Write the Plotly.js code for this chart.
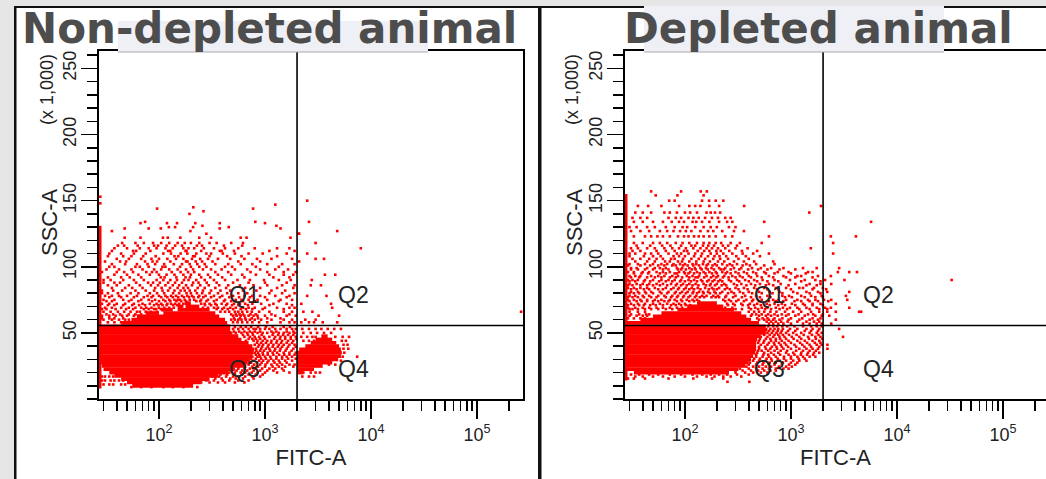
<!DOCTYPE html>
<html><head><meta charset="utf-8">
<script src="https://cdn.plot.ly/plotly-3.0.1.min.js"></script>
<style>html,body{margin:0;padding:0;background:#fff;overflow:hidden}</style></head>
<body><div id="chart" style="width:1046px;height:479px"></div>
<script>
const panelTitles = ["Non-depleted animal", "Depleted animal"];
const quadrantLabels = ["Q1", "Q2", "Q3", "Q4"];
const gateFitc = [2005, 2010];
const gateSsc = [55.6, 55.6];
const yTicks = [50, 100, 150, 200, 250];
const xMajorTicks = [100, 1000, 10000, 100000];
const xMinorTicks = [30,40,50,60,70,80,90,200,300,400,500,600,700,800,900,2000,3000,4000,5000,6000,7000,8000,9000,20000,30000,40000,50000,60000,70000,80000,90000,200000];

// Solid populations: SSC level, and FITC start / end of the saturated run
const npBandSsc = [72.5,70,70,67.5,67.5,65,65,62.5,60,57.5,55,52.5,50,47.5,45,42.5,40,37.5,35,32.5,30,27.5,25,22.5,20,17.5,15,12.5,10,
  47.5,45,42.5,40,37.5,35,32.5,30,27.5,25,22.5,20];
const npBandFrom = [175,150,178,105,150,75,110,62,55,44,27.2,27.2,27.2,27.2,27.2,27.2,27.2,27.2,27.2,27.5,28,28,29,30,34,38,44,50,56,
  3400,3000,2700,2400,2100,2020,2020,2020,2020,2020,2020,2020];
const npBandTo = [200,170,240,135,300,100,340,370,420,440,470,470,480,560,600,700,760,790,780,760,720,680,640,520,450,360,300,250,210,
  3900,4300,4700,5000,5200,5300,5200,4900,4300,3500,2900,2300];
const dpBandSsc = [72.5,70,67.5,65,62.5,60,57.5,55,52.5,50,47.5,45,42.5,40,37.5,35,32.5,30,27.5,25,22.5,20];
const dpBandFrom = [130,105,85,60,50,38,27.2,27.2,27.2,27.2,27.2,27.2,27.2,27.2,27.2,27.2,27.2,27.2,27.2,27.2,28,33];
const dpBandTo = [200,230,290,340,380,420,500,580,600,580,520,480,470,470,470,460,440,420,400,370,320,260];

// Pile-up on the low FITC edge
const npEdgeSsc = [131, 8];
const dpEdgeSsc = [155, 14];

// Individual events, listed by SSC row
const npRowSsc = [153,150,148,147,145,144,142,140,134,133,131,130,129,127,125,122,
 118,114,110,106,102,98,94,90,86,82,78,75,72,69,66,63,60,58,
 53,50,47,44,41,38,35,32,29,26,23,20,17,14,11,9,
 116,112,108,104,100,96,92,88,84,80,77,74,71,68,64,61,
 54.5,51,48.5,45.5,42.5,39.5,36.5,33.5,30.5,27.5,24.5,21.5,18.5,15.5,12.5];
const npRowFitc = [
 [28],[2500],[28],[1250],[211],[96,772],[263],[194],[2600,810,74],[1000,374,220,148,119,67],[1280,257],[455,210,142,124],[104,374,80,47.5,1400],[198,36,4800],[2090,280,2090],[1740,590,670,121,109,159,67,47.5,310,240],
 [45,60,72,88,105,125,150,175,200,240,300,350,480,620,3000],
 [38,50,66,80,95,115,135,170,190,215,265,330,420,560,800,1300,1700,8000],
 [34,44,58,75,110,130,160,185,225,280,310,400,520,700,950,1600,2500],
 [40,52,68,85,100,120,145,170,205,245,290,360,470,640,840,1150,1800,3000,3600],
 [36,48,62,78,92,112,138,165,195,230,270,340,450,590,760,1050,1450,1900],
 [32,42,55,70,90,105,125,150,180,210,260,310,390,520,680,900,1250,1650],
 [38,50,64,82,100,118,140,170,200,240,290,360,480,610,820,1100,1500,1850,3670,4600],
 [30,35,46,58,72,95,110,128,148,172,190,225,270,330,420,550,720,980,1350,1750,2760],
 [33,40,52,66,84,98,115,135,155,180,205,245,295,370,450,580,780,1050,1450,1900,2700,3370],
 [29,37,45,60,75,90,108,122,140,160,175,195,220,260,310,380,470,620,830,1150,1550],
 [31,36,42,50,62,78,88,100,115,130,145,165,185,205,240,275,330,395,500,640,760,900,1250,1700,2500,3800],
 [30,38,46,55,68,80,92,110,125,140,150,158,175,195,215,250,290,350,420,530,600,700,850,1050,1400,1800],
 [29,34,40,48,58,70,82,95,105,120,130,142,155,170,250,270,300,340,390,440,510,580,650,760,920,1200,1600,2200,4200],
 [31,36,44,52,60,68,76,85,100,112,125,138,260,290,330,360,410,470,530,620,700,800,1000,1300,1700,1900,4300],
 [30,35,41,47,54,62,66,75,84,96,380,420,460,520,560,610,680,750,880,1100,1500,1800,2300,2800,260000],
 [29,34,39,45,50,58,64,500,540,590,640,700,780,850,1000,1250,1600,1950,3200,5000],
 [30,36,42,48,52,480,520,560,600,660,720,800,920,1150,1500,1800,2400,3000],
 [33,38,44,50,500,550,610,680,760,880,1050,1400,1700,1900,2200,2600,2900,3500,4800],
 [500,560,620,700,780,820,900,1000,1100,1250,1400,1600,1800,1950,2250,2600,3000,3400,3900,4500,5200],
 [480,530,600,680,760,850,950,1050,1200,1350,1500,1700,1900,2300,2700,3100,3600,4200],
 [640,720,800,880,980,1100,1250,1400,1550,1750,1950,2200,2500,2800,3000,3700,4600,5400,6200],
 [660,780,850,950,1050,1150,1300,1450,1650,1850,2300,2600,2900,5300,5800],
 [800,880,960,1080,1200,1350,1500,1700,1900,5500,6000],
 [820,920,1020,1100,1250,1400,1600,1850,5500,6100],
 [800,860,950,1060,1180,1300,1500,1700,1950,5600],
 [760,850,900,1000,1120,1280,1450,1600,1800,5400,7400],
 [700,780,880,960,1080,1200,1350,1550,1800,3800,4200,5200],
 [640,700,790,900,1010,1150,1300,1450,1700,1900,3300,4000,4600],
 [500,560,640,720,820,940,1100,1250,1450],
 [460,520,590,650,750,850,1000,1300,1700,2300,2700,3000,3300],
 [29,31,34,37,320,370,430,500,570,650,760,900,2250,2600,2900],
 [29,31,35,38,42,46,220,280,330,400,460,560,700],
 [30,34,37,44,48],
 [55,68,85,110,135,170,230],
 [41,47,63,90,98,118,142,165,228,255,410,610],
 [36,57,61,83,122,128,178,182,250,375,390,510,1100,1900],
 [33,46,55,71,93,140,152,210,218,300,440,600,1300],
 [31,43,49,74,87,96,128,180,186,222,255,320,560,900,2100],
 [34,38,60,66,80,108,115,158,200,240,280,420,490,820,1350],
 [29,40,47,57,76,86,95,132,160,188,215,340,450,730,1050,1500,1950],
 [33,44,53,68,104,113,146,178,196,250,305,395,640,1200,1700],
 [30,38,43,61,79,88,102,122,142,165,210,236,282,350,500,700,1000,1600],
 [36,48,56,70,92,106,127,150,170,188,232,270,340,430,650,900,1300,1850],
 [29,33,41,54,64,82,96,112,136,155,182,200,228,256,300,360,440,560,680,1100,1450,1900],
 [34,44,58,72,85,105,120,135,152,172,192,212,235,262,310,375,460,570,720,1000,1600],
 [32,36,52,64,86,100,115,128,146,162,180,225,245,280,330,410,480,620,800,1350],
 [33,38,46,56,65,74,90,99,108,118,136,148,272,310,350,430,490,560,690,1100,1800],
 [29,32,39,49,57,72,80,90,94,104,116,350,395,445,500,590,660,760,950,1500],
 [32,37,43,52,60,68,480,530,575,620,730,820,1150,1700],
 [29,34,38,46,510,580,650,750,860,1050,1400],
 [520,590,660,740,860,1020,1180,1500,1720],
 [510,570,640,720,800,900,1150,1280,1600,1850],
 [620,690,770,930,1180,1330,1480,1650,1850],
 [700,760,820,900,1000,1220,1380,1550,1750,1980],
 [840,920,1020,1140,1280,1420,1600,1800],
 [860,940,1060,1180,1320,1450,1650,1950],
 [830,900,980,1120,1230,1380,1560,1780],
 [820,880,960,1060,1200,1360,1520,1700,1900],
 [740,820,920,1020,1140,1280,1450,1650,1950],
 [700,740,840,930,1050,1230,1380,1600],
 [560,650,760,860,1000,1180,1350,1550,1850],
 [480,540,610,680,780,900,1050,1200,1500],
 [380,440,520,600,700,820,950],
 [280,340,390,470,530,620,780],
 [250,300,360,420,520,640]
];
const dpRowSsc = [157,154,150,146,141,137,134,130,127,123,118,114,110,106,102,99,96,93,90,87,84,81,78,75,72,69,66,63,60,57,53,50,47,44,41,38,35,32,29,26,23,20,17,
 116,112,108,104,101,98,95,92,89,86,83,80,77,74,71,68,64,61,
 58.5,55,51.5,48.5,45.5,42.5,39.5,36.5,33.5,30.5,27.5,24.5,21.5,18.5,15.5,13];
const dpRowFitc = [
 [161,48,92,141],
 [53,85,150],
 [145,169,195,80,71,230],
 [45,36,88,60,110,125,140,170,210,362,1920],
 [34,40,48,64,72,84,100,112,130,160,175,192,215,1490],
 [32,38,44,70,82,92,108,120,135,155,180,205,240,270],
 [33,40,50,62,75,88,98,118,128,145,170,210,250,280,560,5700],
 [30,35,44,52,66,80,95,105,125,150,175,200,260,300],
 [31,38,46,58,68,78,90,102,115,140,165,185,225,290,360],
 [33,42,48,55,62,72,86,98,108,122,135,150,170,195,240,280,620,2380,4100],
 [33,40,50,58,68,82,95,110,130,150,170,195,220,270,330,530,2500],
 [31,36,44,52,64,76,88,102,120,140,160,180,205,240,300,390,1540],
 [30,34,42,48,56,70,84,92,108,125,145,175,200,230,280,350,440,620,2500],
 [32,38,46,54,62,74,80,96,115,135,155,185,215,255,320,400],
 [30,36,42,50,60,68,78,90,100,118,128,148,165,192,225,265,310,380,470,700],
 [31,35,44,52,58,66,84,94,110,124,140,158,178,210,240,290,340,430,520,650,850,1300,1750,2850],
 [29,33,40,46,54,62,72,88,98,112,130,150,170,195,225,250,300,360,440,560,750,950,1450,1600,2770,3550,4200],
 [30,34,38,48,56,64,76,86,104,118,136,160,185,205,235,280,330,400,480,620,850,1150,1250,1800,2380],
 [29,32,36,42,50,60,70,80,92,108,122,142,168,190,215,260,310,370,450,540,700,980,1350,1700,2100,3200,32800],
 [30,35,40,46,54,62,74,84,96,110,126,150,175,200,235,290,340,420,510,620,800,1100,1500,1900,2400],
 [29,33,38,44,52,66,78,88,102,116,132,155,180,210,250,300,360,450,560,720,900,1200,1300,1650,2000],
 [31,36,42,48,58,70,82,94,106,120,136,148,165,190,225,275,330,400,500,630,780,1050,1400,1800,2200,3550],
 [30,34,40,46,56,64,76,86,98,112,128,145,160,185,205,245,300,370,470,600,830,960,1250,1550,1950,3300],
 [29,33,38,44,52,60,72,80,92,104,118,130,230,260,320,380,440,530,680,760,900,1150,1450,1700,2050,2400,3400],
 [31,36,42,50,58,68,78,88,100,250,285,340,410,480,590,700,820,1020,1300,1600,1900,2650],
 [29,34,40,46,54,62,72,84,94,240,280,400,460,530,600,720,840,980,1150,1400,1750,2100,2380,3550],
 [30,36,42,400,450,500,560,640,730,880,1050,1250,1550,1850,2200,2650,4400,4600],
 [30,35,40,44,420,500,580,650,750,900,1100,1350,1700,1950,2300],
 [500,560,620,680,780,950,1200,1500,1800,2650],
 [620,680,760,850,1000,1300,1500,1750,1950,2400],
 [640,700,760,840,980,1150,1400,1600,1850,2850],
 [600,660,730,800,900,1050,1250,1500,1750,1950],
 [520,600,680,780,870,1020,1200,1450,1700,1900,3100],
 [500,560,650,720,820,950,1150,1350,1600,1850],
 [520,600,700,800,900,1080,1280,1500,1750,1950,2210],
 [500,580,640,740,850,1000,1200,1400,1600,1800,2210],
 [480,560,650,760,900,1050,1250,1450,1650,1850],
 [470,540,620,720,860,1000,1150,1300,1500,1700],
 [440,500,580,660,780,900,1050,1200,1400],
 [400,470,540,620,700,820,960,1100],
 [330,400,470,540,620,720,850,950],
 [250,300,370,440,520,600],
 [34,40,50,62,80,100,130,160,190,230,270,340],
 [35,47,61,73,92,115,125,148,166,188,228,256,310],
 [32,38,54,66,80,98,105,132,152,170,198,218,262,345,480],
 [30,41,50,59,78,88,100,122,142,165,190,212,245,305,375,510],
 [34,44,52,65,72,86,94,110,128,150,172,205,235,290,360,450,680],
 [29,38,47,56,64,76,82,96,106,120,136,160,182,200,250,280,350,410,560],
 [31,36,42,50,62,70,86,92,102,116,126,144,164,188,218,232,270,325,395,490,600,780,1100],
 [33,39,45,58,66,80,84,100,108,122,138,156,180,200,242,270,320,385,470,580,700,1000,1380],
 [31,37,44,52,60,72,82,94,110,126,132,152,176,198,228,258,300,350,420,530,680,900,1100,1600],
 [30,34,41,47,57,66,76,90,100,114,130,146,162,182,206,225,272,325,400,480,600,760,1250,1900],
 [29,32,38,44,50,58,68,82,92,104,118,134,158,172,192,222,245,310,380,460,580,680,950,1400,1750],
 [31,35,41,46,56,62,74,86,98,110,122,140,168,186,200,238,265,320,390,480,600,760,1000,1600,2150],
 [30,33,37,43,50,60,68,80,90,102,118,130,150,172,195,215,255,290,355,430,530,670,830,1150,1500,1900],
 [29,32,36,41,48,54,66,74,84,96,108,124,138,152,178,195,210,240,285,345,420,510,640,880,1020,1350,1700,2000],
 [30,35,39,44,50,56,64,70,84,94,110,122,136,240,272,305,360,430,500,620,720,850,1080,1250,1500,1800,2250],
 [29,33,37,41,47,53,62,74,82,92,102,112,255,295,350,395,450,520,630,760,880,1100,1350,1600,2000],
 [30,32,36,42,48,56,66,76,88,98,105,300,345,420,490,570,650,780,920,1200,1500,1850,2200],
 [31,37,43,46,430,470,530,610,700,820,950,1180,1450,1620,2000],
 [29,33,38,42,480,540,600,700,830,1000,1280,1600,1900],
 [590,650,720,810,930,1150,1400,1650,1850],
 [610,680,740,830,920,1080,1300,1550,1750,1950],
 [620,680,750,820,940,1100,1350,1550,1800],
 [560,630,700,760,840,960,1130,1320,1580,1820],
 [510,580,640,720,790,900,1060,1250,1480,1720,1980],
 [490,550,620,690,770,870,1000,1220,1420,1680,1900],
 [500,570,660,730,820,940,1120,1340,1550,1850],
 [490,530,610,700,800,920,1120,1300,1500,1720],
 [470,550,610,690,790,950,1080,1240,1420,1620],
 [450,510,590,650,750,860,1000,1180,1350],
 [410,480,550,630,720,840,1000,1150],
 [380,440,500,580,650,770,900,1020],
 [300,350,420,490,560,640,720],
 [31,37,46,56,72,92,118,146,175,210,250,310,400],
 [29,33,42,70,120,180,230],
 [252,405]
];

const RED = "#ff0000";
const W = 1046, H = 479;
const xp = px => px / W, yp = py => 1 - py / H;

function bandTrace(ssc, from, to, xa, ya) {
  const x = [], y = [];
  ssc.forEach((s, i) => { x.push(from[i], to[i], null); y.push(s, s, null); });
  return {type:"scatter", mode:"lines", x, y, xaxis:xa, yaxis:ya, hoverinfo:"skip", showlegend:false,
          line:{color:RED, width:3.7}};
}
function eventTrace(rowSsc, rowFitc, xa, ya) {
  const x = [], y = [];
  rowSsc.forEach((s, i) => rowFitc[i].forEach(f => { x.push(f); y.push(s); }));
  return {type:"scatter", mode:"markers", x, y, xaxis:xa, yaxis:ya, showlegend:false, hoverinfo:"skip",
          marker:{color:RED, size:2.6, symbol:"square", line:{width:0}}};
}
function edgeTrace(ssc, left, xa, ya) {
  return {type:"scatter", mode:"lines", x:[left,left], y:ssc, xaxis:xa, yaxis:ya, showlegend:false, hoverinfo:"skip",
          line:{color:RED, width:5}};
}
function gateTraces(i, xa, ya, lo, hi) {
  const st = {type:"scatter", mode:"lines", xaxis:xa, yaxis:ya, showlegend:false, hoverinfo:"skip", line:{color:"#000", width:1.6}};
  return [Object.assign({x:[gateFitc[i],gateFitc[i]], y:[0,263.2]}, st),
          Object.assign({x:[lo,hi], y:[gateSsc[i],gateSsc[i]]}, st)];
}
const XLO = 27.2, XHI = 271000;
const data = [
  bandTrace(npBandSsc, npBandFrom, npBandTo, "x", "y"),
  edgeTrace(npEdgeSsc, XLO, "x", "y"),
  eventTrace(npRowSsc, npRowFitc, "x", "y"),
  ...gateTraces(0, "x", "y", XLO, XHI),
  bandTrace(dpBandSsc, dpBandFrom, dpBandTo, "x2", "y2"),
  edgeTrace(dpEdgeSsc, XLO, "x2", "y2"),
  eventTrace(dpRowSsc, dpRowFitc, "x2", "y2"),
  ...gateTraces(1, "x2", "y2", XLO, XHI)
];

const NARROW = "Liberation Sans Narrow, Liberation Sans, Arial, sans-serif";
const SANS = "Liberation Sans, Arial, sans-serif";
const tickFont = {family:NARROW, size:18, color:"#222"};
const titleFont = {family:SANS, size:22, color:"#222"};
function xAxis(dom, rangeHi, anchor) {
  return {type:"log", domain:dom, range:[Math.log10(XLO), rangeHi], anchor, tickmode:"array", tickvals:xMajorTicks,
    ticktext:xMajorTicks.map(v => "10<sup>" + Math.log10(v) + "</sup>"), ticks:"outside", ticklen:18, tickwidth:1.6,
    tickcolor:"#000", linecolor:"#000", linewidth:2, showline:true, mirror:true, showgrid:false, zeroline:false,
    tickfont:tickFont,
    minor:{ticks:"outside", ticklen:10, tickwidth:1.6, tickcolor:"#000", tickmode:"array", tickvals:xMinorTicks, showgrid:false},
    title:{text:"FITC-A", font:titleFont, standoff:2}};
}
function yAxis(anchor, mirror) {
  return {domain:[yp(399), yp(51)], range:[0,263.2], anchor, tickmode:"array", tickvals:yTicks, ticktext:yTicks.map(String),
    tickangle:-90, ticks:"outside", ticklen:16, tickwidth:1.6, tickcolor:"#000", linecolor:"#000", linewidth:2,
    showline:true, mirror, showgrid:false, zeroline:false, tickfont:tickFont, ticklabelstandoff:-2,
    minor:{ticks:"outside", ticklen:10, tickwidth:1.6, tickcolor:"#000", dtick:10, showgrid:false}};
}
const rect = (x0,y0,x1,y1,color) => ({type:"rect", xref:"paper", yref:"paper", x0:xp(x0), x1:xp(x1), y0:yp(y1), y1:yp(y0),
  fillcolor:color, line:{width:0}, layer:"above"});
const shapes = [
  rect(0,0,W,6,"#e6e6e6"), rect(0,0,14,H,"#e6e6e6"),
  rect(14,6,W,8,"#111"), rect(14,6,16.5,H,"#111"), rect(538,6,541.5,H,"#111"),
  rect(118,21,428,52,"#eff0f6"), rect(118,51.5,428,52.5,"#aaaaaa"),
  rect(644,6,944,52,"#eff0f6"), rect(644,51.5,944,52.5,"#aaaaaa")
];
const qFont = {family:NARROW, size:23, color:"#222"};
const ann = (px,py,text,font,extra) => Object.assign({xref:"paper", yref:"paper", x:xp(px), y:yp(py), text, font, showarrow:false, xanchor:"center", yanchor:"middle"}, extra||{});
const titleF = {family:"DejaVu Sans", size:42, color:"#4d4d4d", weight:700};
const annotations = [
  ann(20,29,"<b>"+panelTitles[0]+"</b>",titleF,{xanchor:"left"}),
  ann(622,29,"<b>"+panelTitles[1]+"</b>",titleF,{xanchor:"left"}),
  ann(49,222,"SSC-A",titleFont,{textangle:-90}),
  ann(574,222,"SSC-A",titleFont,{textangle:-90}),
  ann(47,90,"(x 1,000)",{family:SANS,size:18,color:"#222"},{textangle:-90}),
  ann(572,90,"(x 1,000)",{family:SANS,size:18,color:"#222"},{textangle:-90}),
  ann(244,295,quadrantLabels[0],qFont), ann(353,295,quadrantLabels[1],qFont),
  ann(244,369,quadrantLabels[2],qFont), ann(353,369,quadrantLabels[3],qFont),
  ann(769,295,quadrantLabels[0],qFont), ann(878,295,quadrantLabels[1],qFont),
  ann(769,369,quadrantLabels[2],qFont), ann(878,369,quadrantLabels[3],qFont)
];
const layout = {
  width:W, height:H, margin:{l:0,r:0,t:0,b:0}, paper_bgcolor:"#fff", plot_bgcolor:"#fff", showlegend:false,
  xaxis:xAxis([xp(99),xp(523)], Math.log10(XHI), "y"),
  yaxis:yAxis("x", true),
  xaxis2:xAxis([xp(625),1], Math.log10(XLO)+(1046-625)/106, "y2"),
  yaxis2:yAxis("x2", false),
  shapes, annotations
};
Plotly.newPlot("chart", data, layout, {displayModeBar:false, staticPlot:true});
</script></body></html>
